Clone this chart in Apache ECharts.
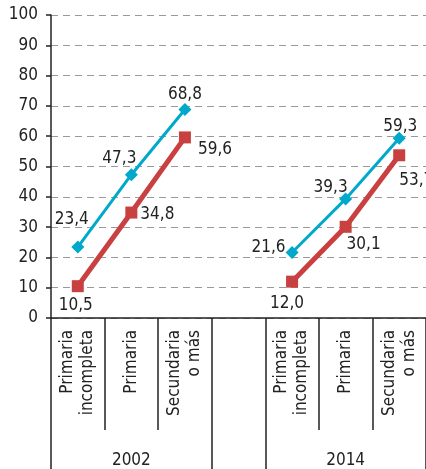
<!DOCTYPE html>
<html><head><meta charset="utf-8">
<script src="https://cdn.jsdelivr.net/npm/echarts@6/dist/echarts.min.js"></script>
<style>html,body{margin:0;padding:0;background:#fff}#c{width:426px;height:469px}</style>
</head><body><div id="c"></div>
<script>
const categories = ['Primaria\nincompleta','Primaria','Secundaria\no más','', 'Primaria\nincompleta','Primaria','Secundaria\no más'];
const groups = ['', '2002', '', '', '', '2014', ''];
const serieBlue = [23.4, 47.3, 68.8, null, 21.6, 39.3, 59.3];
const serieRed = [10.5, 34.8, 59.6, null, 12.0, 30.1, 53.7];
const yTicks = [0,10,20,30,40,50,60,70,80,90,100];

const FONT = "'Liberation Sans Narrow','DejaVu Sans Condensed',sans-serif";
const fmt = v => v.toFixed(1).replace('.', ',');
const blueLabel = [['top',[-6,-8]],['top',[-12,4]],['top',[0,5]],null,['left',[5,-5]],['top',[-15,9]],['top',[1,8]]];
const redLabel = [['bottom',[-2,0]],['right',[-2,2]],['right',[2,12]],null,['bottom',[-5,2]],['bottom',[18,-2]],['right',[-11,25]]];
function mk(vals, pos){
  return vals.map((v,i)=> v==null? null : {value:v, label:{position:pos[i][0], offset:pos[i][1]}});
}
const chart = echarts.init(document.getElementById('c'));
chart.setOption({
  animation:false,
  textStyle:{fontFamily:FONT},
  grid:{left:51, right:-7, top:15, bottom:149, containLabel:false},
  xAxis:[{
    type:'category', data:categories, boundaryGap:true,
    axisLine:{lineStyle:{color:'#222', width:1.5}},
    axisTick:{show:true, length:112, lineStyle:{color:'#222', width:1.5}, alignWithLabel:false},
    axisLabel:{rotate:90, fontSize:17, color:'#222', fontFamily:FONT, margin:12, lineHeight:20, interval:0}
  },{
    type:'category', data:groups, position:'bottom', boundaryGap:true,
    axisLine:{show:false},
    axisTick:{show:true, length:155, lineStyle:{color:'#222', width:1.5}, interval:(i)=> i===0||i===3||i===4},
    axisLabel:{fontSize:17, color:'#222', fontFamily:FONT, margin:134, interval:0}
  }],
  yAxis:{
    type:'value', min:0, max:100, interval:10,
    axisLine:{show:true, lineStyle:{color:'#222', width:1.5}},
    axisTick:{show:true, length:5, lineStyle:{color:'#222', width:1.5}},
    axisLabel:{fontSize:17, color:'#222', fontFamily:FONT, margin:13},
    splitLine:{lineStyle:{color:'#999', type:[7,5], width:1.2}}
  },
  series:[{
    type:'line', data:mk(serieBlue, blueLabel), connectNulls:false,
    symbol:'diamond', symbolSize:13, color:'#00a9cc',
    lineStyle:{width:3}, itemStyle:{color:'#00a9cc'},
    label:{show:true, fontSize:17, color:'#222', fontFamily:FONT, formatter:p=>fmt(p.value)}
  },{
    type:'line', data:mk(serieRed, redLabel), connectNulls:false,
    symbol:'rect', symbolSize:12, color:'#c8403f',
    lineStyle:{width:5}, itemStyle:{color:'#c8403f'},
    label:{show:true, fontSize:17, color:'#222', fontFamily:FONT, formatter:p=>fmt(p.value)}
  }]
});
</script></body></html>
